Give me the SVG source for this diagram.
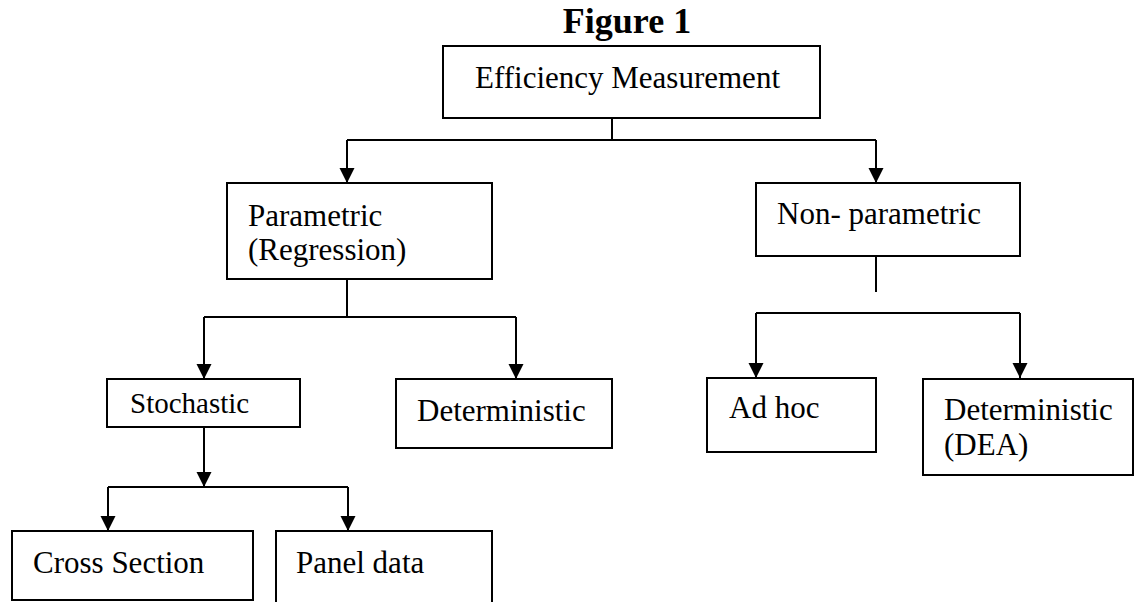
<svg xmlns="http://www.w3.org/2000/svg" width="1134" height="602" viewBox="0 0 1134 602">
<style>
.box{fill:#fff;stroke:#000;stroke-width:2}
.t{font-family:"Liberation Serif","Times New Roman",serif;font-size:31px;fill:#000}
.ln{fill:none;stroke:#000;stroke-width:2}
</style>
<defs>
<marker id="ar" markerUnits="userSpaceOnUse" markerWidth="16" markerHeight="16" viewBox="0 0 16 16" refX="15" refY="8" orient="auto">
<path d="M0,0.5 L15,8 L0,15.5 Z" fill="#000"/>
</marker>
</defs>
<rect width="1134" height="602" fill="#fff"/>
<text x="627" y="33" text-anchor="middle" style="font-family:'Liberation Serif','Times New Roman',serif;font-size:36px;font-weight:bold">Figure 1</text>
<g id="connectors">
<path class="ln" d="M612,118 V140 M347,140 H876"/>
<path class="ln" d="M347,140 V183" marker-end="url(#ar)"/>
<path class="ln" d="M876,140 V183" marker-end="url(#ar)"/>
<path class="ln" d="M347,279 V317 M204,317 H516"/>
<path class="ln" d="M204,317 V379" marker-end="url(#ar)"/>
<path class="ln" d="M516,317 V379" marker-end="url(#ar)"/>
<path class="ln" d="M204,427 V487" marker-end="url(#ar)"/>
<path class="ln" d="M108,487 H348"/>
<path class="ln" d="M108,487 V531" marker-end="url(#ar)"/>
<path class="ln" d="M348,487 V531" marker-end="url(#ar)"/>
<path class="ln" d="M876,256 V292"/>
<path class="ln" d="M756,313 H1020"/>
<path class="ln" d="M756,313 V378" marker-end="url(#ar)"/>
<path class="ln" d="M1020,313 V378" marker-end="url(#ar)"/>
</g>
<g id="n-efficiency"><rect class="box" x="443" y="46" width="377" height="72"/><text class="t" x="475" y="88">Efficiency Measurement</text></g>
<g id="n-parametric"><rect class="box" x="227" y="183" width="265" height="96"/><text class="t" x="248" y="226">Parametric</text><text class="t" x="248" y="260">(Regression)</text></g>
<g id="n-nonparametric"><rect class="box" x="756" y="183" width="264" height="73"/><text class="t" x="777" y="224">Non- parametric</text></g>
<g id="n-stochastic"><rect class="box" x="107" y="379" width="193" height="48"/><text class="t" x="130" y="413" style="font-size:29px">Stochastic</text></g>
<g id="n-deterministic"><rect class="box" x="396" y="379" width="216" height="69"/><text class="t" x="417" y="421">Deterministic</text></g>
<g id="n-adhoc"><rect class="box" x="707" y="378" width="169" height="74"/><text class="t" x="729" y="418">Ad hoc</text></g>
<g id="n-dea"><rect class="box" x="923" y="379" width="210" height="96"/><text class="t" x="944" y="420">Deterministic</text><text class="t" x="944" y="455">(DEA)</text></g>
<g id="n-cross"><rect class="box" x="12" y="531" width="241" height="69"/><text class="t" x="33" y="573">Cross Section</text></g>
<g id="n-panel"><rect class="box" x="276" y="531" width="216" height="80"/><text class="t" x="296" y="573">Panel data</text></g>
</svg>
